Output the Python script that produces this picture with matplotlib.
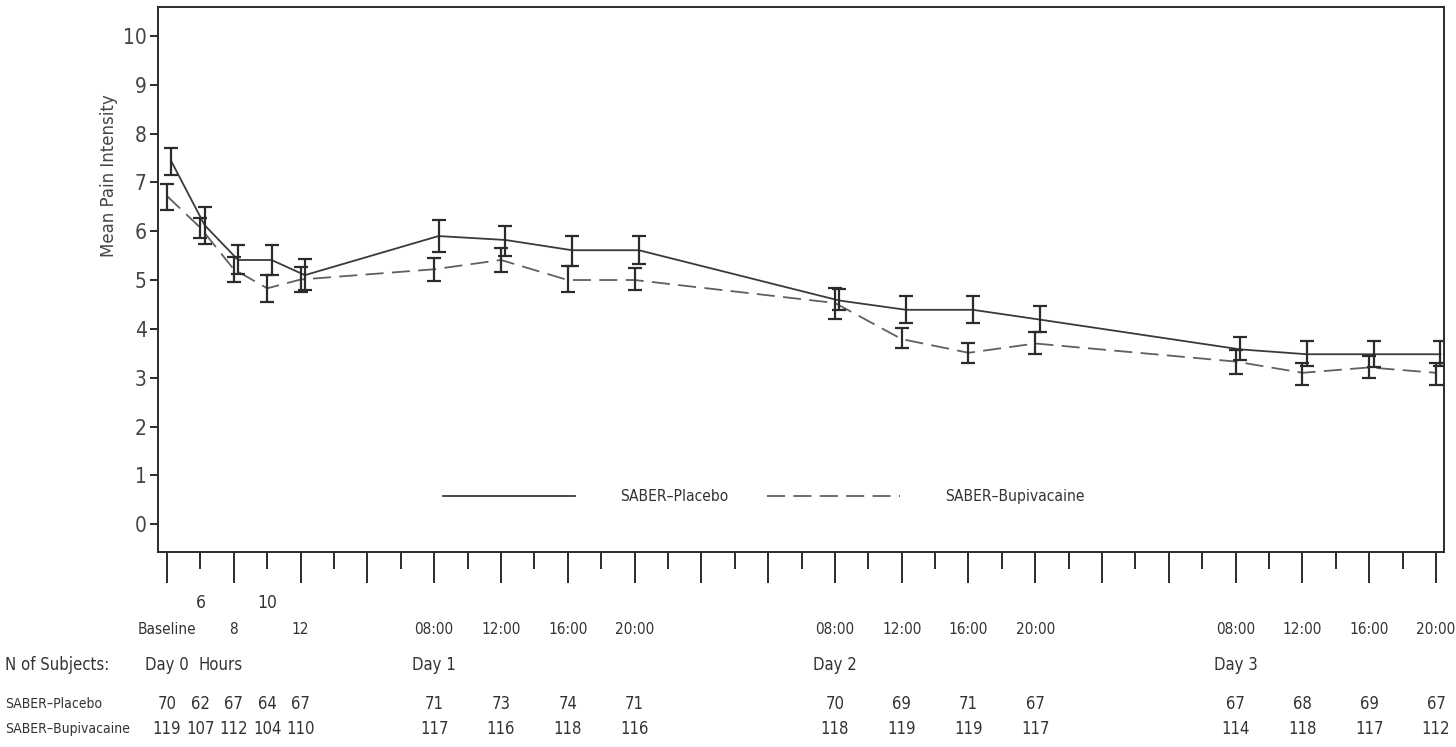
import matplotlib
matplotlib.use("Agg")
import matplotlib.pyplot as plt
import matplotlib.transforms as mtransforms
import numpy as np

plt.rcParams['font.family'] = ['DejaVu Sans']
plt.rcParams['font.stretch'] = 'condensed'
plt.rcParams['lines.scale_dashes'] = False

# time points, in 2-hour grid steps along the x axis
x_pos = [0, 1, 2, 3, 4, 8, 10, 12, 14, 20, 22, 24, 26, 32, 34, 36, 38]

# mean pain intensity and error bar limits
placebo_mean = [7.43, 6.12, 5.41, 5.41, 5.10, 5.90, 5.82, 5.61, 5.61,
                4.58, 4.39, 4.39, 4.19, 3.58, 3.48, 3.48, 3.48]
placebo_lo = [7.15, 5.74, 5.12, 5.10, 4.80, 5.58, 5.49, 5.29, 5.33,
              4.39, 4.13, 4.13, 3.94, 3.36, 3.24, 3.22, 3.24]
placebo_hi = [7.71, 6.50, 5.72, 5.72, 5.44, 6.23, 6.11, 5.90, 5.90,
              4.81, 4.67, 4.67, 4.47, 3.84, 3.76, 3.76, 3.76]

bupi_mean = [6.72, 6.07, 5.22, 4.83, 5.01, 5.22, 5.41, 5.00, 5.00,
             4.53, 3.79, 3.51, 3.70, 3.33, 3.10, 3.21, 3.10]
bupi_lo = [6.43, 5.86, 4.95, 4.55, 4.76, 4.97, 5.16, 4.75, 4.80,
           4.21, 3.60, 3.31, 3.48, 3.07, 2.86, 2.99, 2.86]
bupi_hi = [6.96, 6.27, 5.48, 5.10, 5.27, 5.45, 5.65, 5.29, 5.24,
           4.83, 4.01, 3.72, 3.94, 3.57, 3.31, 3.44, 3.31]

# number of subjects
n_placebo = [70, 62, 67, 64, 67, 71, 73, 74, 71, 70, 69, 71, 67, 67, 68, 69, 67]
n_bupi = [119, 107, 112, 104, 110, 117, 116, 118, 116, 118, 119, 119, 117, 114, 118, 117, 112]

# axis labels under the ticks
upper_labels = {1: "6", 3: "10"}
time_labels = {0: "Baseline", 2: "8", 4: "12",
               8: "08:00", 10: "12:00", 12: "16:00", 14: "20:00",
               20: "08:00", 22: "12:00", 24: "16:00", 26: "20:00",
               32: "08:00", 34: "12:00", 36: "16:00", 38: "20:00"}
day_labels = {0: "Day 0", 1.6: "Hours", 8: "Day 1", 20: "Day 2", 32: "Day 3"}

dark = "#2b2b2b"
txt = "#333333"

fig = plt.figure(figsize=(14.56, 7.47), dpi=100)
ax = fig.add_axes([0.1085, 0.261, 0.8833, 0.7296])

xp = np.array(x_pos, dtype=float)
xp_pl = xp + 0.13

pm = np.array(placebo_mean)
bm = np.array(bupi_mean)

ax.plot(xp_pl, pm, color="#3a3a3a", lw=1.3, label="SABER\u2013Placebo")
ax.plot(xp, bm, color="#606060", lw=1.3, dashes=(13, 6),
        label="SABER\u2013Bupivacaine")

ax.errorbar(xp_pl, pm, yerr=[pm - np.array(placebo_lo), np.array(placebo_hi) - pm],
            fmt="none", ecolor=dark, elinewidth=1.6, capsize=4.8, capthick=1.6)
ax.errorbar(xp, bm, yerr=[bm - np.array(bupi_lo), np.array(bupi_hi) - bm],
            fmt="none", ecolor=dark, elinewidth=1.6, capsize=4.8, capthick=1.6)

ax.set_xlim(-0.27, 38.24)
ax.set_ylim(-0.57, 10.59)

ax.set_yticks(range(0, 11))
ax.tick_params(axis="y", direction="out", length=6, width=1.4, color=dark,
               labelsize=15, labelcolor="#444444", pad=2)

ax.set_xticks(range(0, 39, 2))
ax.set_xticks(range(1, 39, 2), minor=True)
ax.tick_params(axis="x", which="major", direction="out", length=22, width=1.4,
               color=dark, labelbottom=False)
ax.tick_params(axis="x", which="minor", direction="out", length=12, width=1.4,
               color=dark, labelbottom=False)

for sp in ax.spines.values():
    sp.set_color(dark)
    sp.set_linewidth(1.4)

ax.set_ylabel("Mean Pain Intensity", fontstretch="normal", fontsize=12,
              color="#444444")
ax.yaxis.set_label_coords(-0.031, 0.69)

ax.legend(loc="center left", bbox_to_anchor=(0.2216, 0.101), ncol=2,
          frameon=False, fontsize=11.2, handlelength=8.5, handletextpad=2.9,
          columnspacing=2.5, borderpad=0, borderaxespad=0,
          labelcolor=txt)

# text rows under the axis
trans = mtransforms.blended_transform_factory(ax.transData, fig.transFigure)


def fy(py):
    return 1 - py / 747.0


for k, s in upper_labels.items():
    ax.text(k, fy(603), s, transform=trans, ha="center", va="center",
            fontsize=12.5, color=txt, clip_on=False)
for k, s in time_labels.items():
    ax.text(k, fy(630), s, transform=trans, ha="center", va="center",
            fontsize=11, color=txt, clip_on=False)
for k, s in day_labels.items():
    ax.text(k, fy(665), s, transform=trans, ha="center", va="center",
            fontsize=12, color=txt, clip_on=False)
for k, a, b in zip(x_pos, n_placebo, n_bupi):
    ax.text(k, fy(704), str(a), transform=trans, ha="center", va="center",
            fontsize=12, color=txt, clip_on=False)
    ax.text(k, fy(729), str(b), transform=trans, ha="center", va="center",
            fontsize=12, color=txt, clip_on=False)

fig.text(5 / 1456, fy(665), "N of Subjects:", ha="left", va="center",
         fontsize=12, color=txt)
fig.text(5 / 1456, fy(704), "SABER\u2013Placebo", ha="left", va="center",
         fontsize=10, color=txt)
fig.text(5 / 1456, fy(729), "SABER\u2013Bupivacaine", ha="left", va="center",
         fontsize=10, color=txt)

fig.savefig("out.png", dpi=100)
